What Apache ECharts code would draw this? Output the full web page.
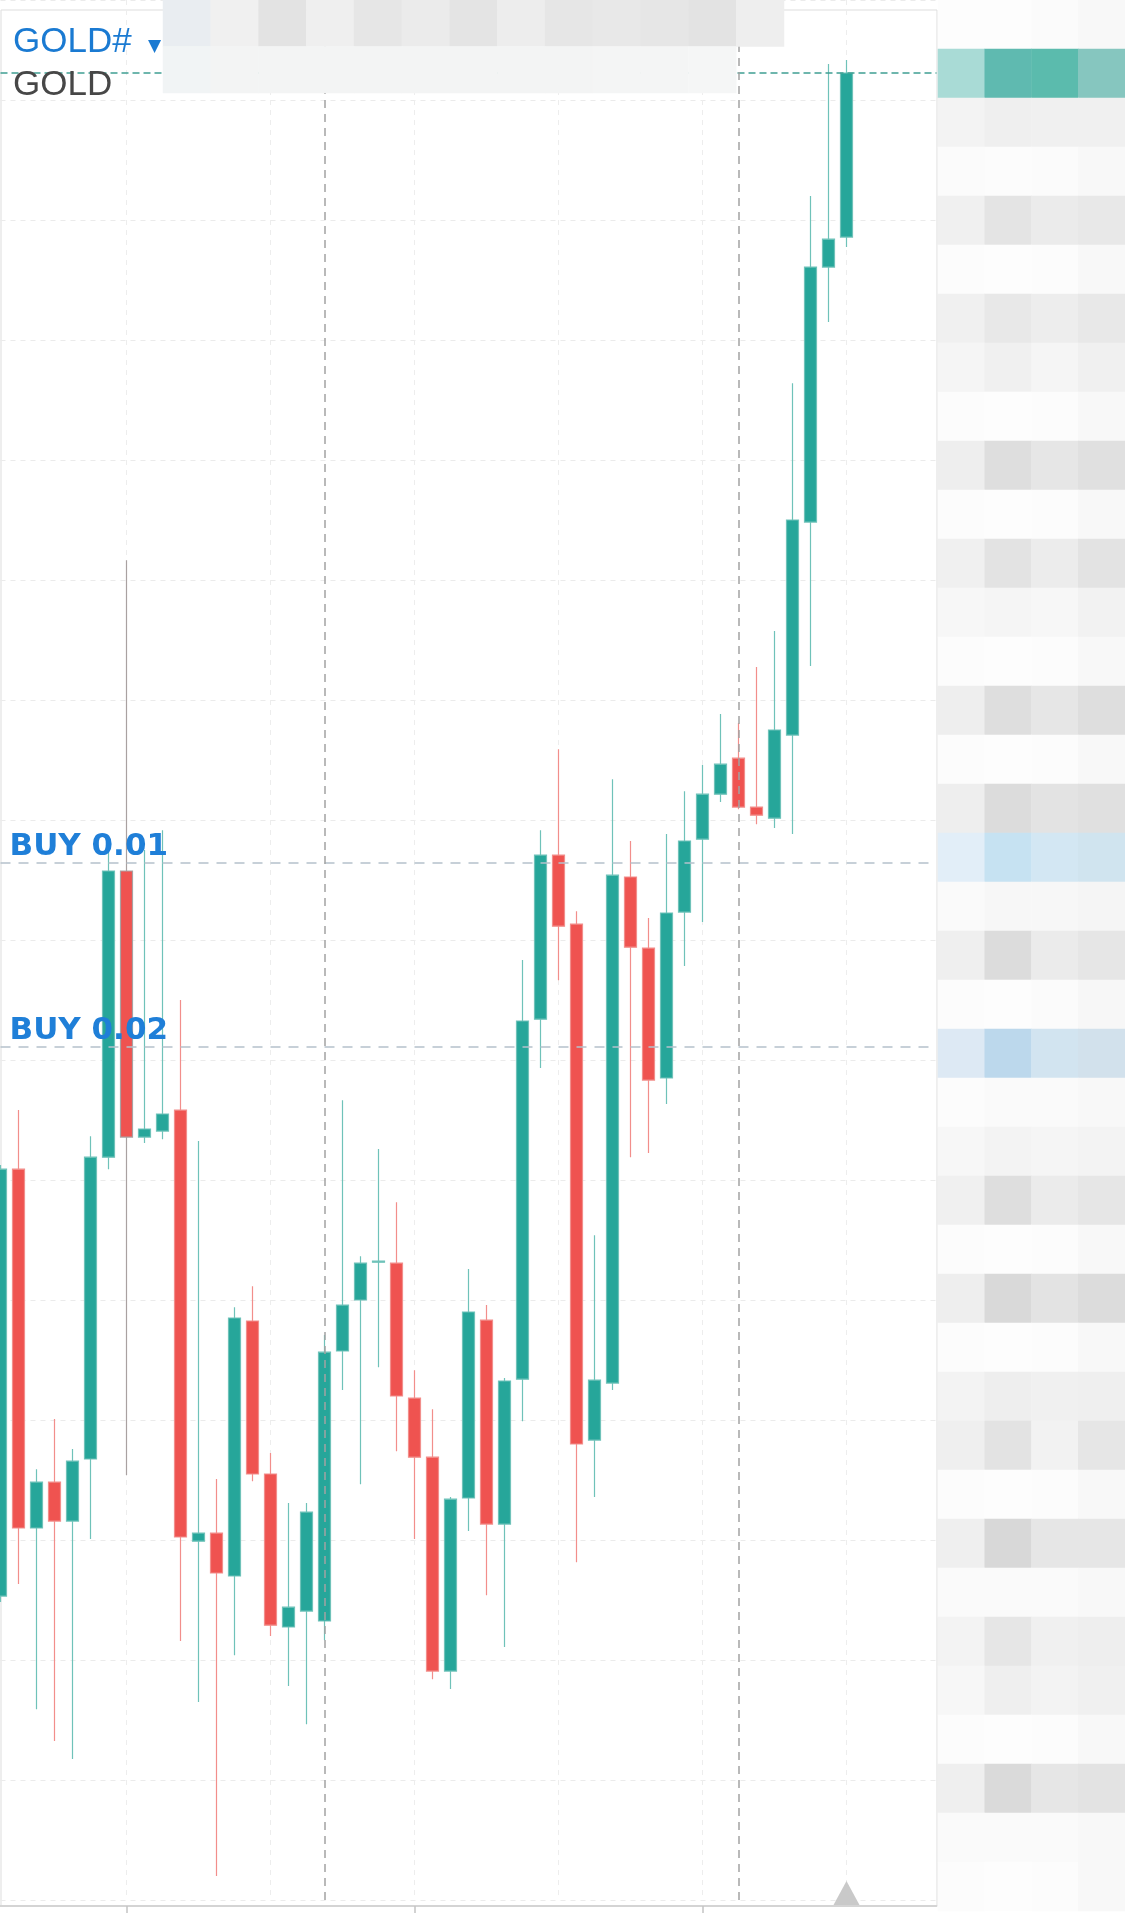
<!DOCTYPE html>
<html><head><meta charset="utf-8">
<script src="https://cdn.jsdelivr.net/npm/echarts@6/dist/echarts.min.js"></script>
<style>html,body{margin:0;padding:0;background:#fff}#c{width:1125px;height:1914px}</style>
</head><body><div id="c"></div>
<script>
// ---------- data ----------
const categories = [
 'D1 05:00','D1 06:00','D1 07:00','D1 08:00','D1 09:00','D1 10:00','D1 11:00','D1 12:00','D1 13:00','D1 14:00',
 'D1 15:00','D1 16:00','D1 17:00','D1 18:00','D1 19:00','D1 20:00','D1 21:00','D1 22:00',
 'D2 00:00','D2 01:00','D2 02:00','D2 03:00','D2 04:00','D2 05:00','D2 06:00','D2 07:00','D2 08:00','D2 09:00',
 'D2 10:00','D2 11:00','D2 12:00','D2 13:00','D2 14:00','D2 15:00','D2 16:00','D2 17:00','D2 18:00','D2 19:00',
 'D2 20:00','D2 21:00','D2 22:00',
 'D3 00:00','D3 01:00','D3 02:00','D3 03:00','D3 04:00','D3 05:00','D3 06:00','D3 07:00','D3 08:00','D3 09:00',
 'D3 10:00','D3 11:00'
];
const opens = [1910.13,1924.36,1912.40,1913.93,1912.63,1914.70,1924.76,1934.30,1925.43,1925.63,
 1926.33,1911.96,1912.23,1910.80,1919.30,1914.20,1909.10,1909.63,1909.30,1918.30,
 1920.00,1921.26,1921.23,1916.73,1914.76,1907.63,1913.40,1919.33,1912.53,1917.36,
 1929.36,1934.83,1932.53,1915.33,1917.23,1934.10,1931.73,1927.40,1932.93,1935.36,
 1936.86,1938.06,1936.43,1936.06,1938.83,1945.93,1954.43,1955.43];
const closes = [1924.36,1912.40,1913.93,1912.63,1914.63,1924.76,1934.30,1925.43,1925.70,1926.20,
 1912.10,1912.23,1910.90,1919.40,1914.20,1909.16,1909.76,1912.93,1918.26,1919.83,
 1921.23,1921.30,1916.80,1914.76,1907.63,1913.36,1919.60,1912.53,1917.30,1929.30,
 1934.83,1932.46,1915.20,1917.33,1934.16,1931.76,1927.33,1932.90,1935.30,1936.86,
 1937.86,1936.43,1936.16,1939.00,1946.00,1954.43,1955.36,1960.90];
const lows = [1909.93,1910.53,1906.36,1905.30,1904.70,1912.03,1924.36,1914.16,1925.23,1925.36,
 1908.63,1906.60,1900.80,1908.16,1913.96,1908.80,1907.13,1905.86,1908.66,1917.00,
 1913.86,1917.76,1914.96,1912.03,1907.36,1907.03,1912.30,1910.16,1908.43,1915.96,
 1927.73,1930.66,1911.26,1913.43,1917.00,1924.76,1924.90,1926.53,1931.13,1932.60,
 1936.60,1936.36,1935.86,1935.73,1935.53,1941.13,1952.60,1955.10];
const highs = [1924.50,1926.33,1914.36,1916.03,1915.03,1925.46,1934.93,1944.66,1935.00,1935.66,
 1930.00,1925.30,1914.03,1919.76,1920.46,1914.90,1913.23,1913.23,1918.83,1926.66,
 1921.46,1925.03,1923.26,1917.66,1916.36,1913.43,1921.03,1919.83,1917.40,1931.33,
 1935.66,1938.36,1932.96,1922.16,1937.36,1935.30,1932.73,1935.53,1936.96,1937.83,
 1939.53,1939.23,1941.10,1942.30,1950.56,1956.80,1961.20,1961.33];
const lastPrice = 1960.90;
const buyLevels = [1934.56, 1928.43];
const buyLabels = ['BUY 0.01', 'BUY 0.02'];
const daySeparators = [18, 41];
const markerLevel = 1900.23;
// pixelated (redacted) price scale on the right and header bar on top
const mosaicRight = [
 ['fdfdfd','fdfdfd','fbfbfb','f8f8f8'],
 ['a9dbd6','5fbab0','5bbbad','86c6bf'],
 ['f3f3f3','efefef','f0f0f0','f0f0f0'],
 ['fbfbfb','fcfcfc','fbfbfb','f8f8f8'],
 ['f0f0f0','e4e4e4','ebebeb','e8e8e8'],
 ['fcfcfc','fdfdfd','fcfcfc','f8f8f8'],
 ['f0f0f0','e8e8e8','ededed','e8e8e8'],
 ['f5f5f5','f0f0f0','f5f5f5','f0f0f0'],
 ['fcfcfc','fdfdfd','fcfcfc','f8f8f8'],
 ['eeeeee','dedede','e6e6e6','e0e0e0'],
 ['fcfcfc','fdfdfd','fcfcfc','f8f8f8'],
 ['f0f0f0','e3e3e3','ececec','e3e3e3'],
 ['f7f7f7','f5f5f5','f7f7f7','f2f2f2'],
 ['fcfcfc','fdfdfd','fcfcfc','f8f8f8'],
 ['eeeeee','dedede','e6e6e6','dedede'],
 ['fcfcfc','fdfdfd','fcfcfc','f8f8f8'],
 ['eeeeee','dcdcdc','e3e3e3','e0e0e0'],
 ['e2eef8','c6e2f2','d3e7f3','d0e4ef'],
 ['fafafa','f7f7f7','f7f7f7','f5f5f5'],
 ['efefef','dcdcdc','ebebeb','e6e6e6'],
 ['fcfcfc','fdfdfd','fbfbfb','f7f7f7'],
 ['dde9f4','bcd8ec','d2e4f0','d2e1ec'],
 ['fcfcfc','fafafa','fafafa','f8f8f8'],
 ['f7f7f7','f3f3f3','f5f5f5','f3f3f3'],
 ['f0f0f0','dedede','ebebeb','e6e6e6'],
 ['fcfcfc','fdfdfd','fcfcfc','f8f8f8'],
 ['eeeeee','d9d9d9','e3e3e3','dcdcdc'],
 ['fcfcfc','fdfdfd','fcfcfc','f8f8f8'],
 ['f3f3f3','eeeeee','f0f0f0','efefef'],
 ['efefef','e3e3e3','f2f2f2','e6e6e6'],
 ['fcfcfc','fdfdfd','fcfcfc','f8f8f8'],
 ['efefef','d8d8d8','e6e6e6','e6e6e6'],
 ['fafafa','fafafa','fafafa','f8f8f8'],
 ['f3f3f3','e6e6e6','f0f0f0','eeeeee'],
 ['f7f7f7','efefef','f3f3f3','f0f0f0'],
 ['fcfcfc','fdfdfd','fcfcfc','f8f8f8'],
 ['efefef','dadada','e6e6e6','e3e3e3'],
 ['fafafa','fafafa','fafafa','f8f8f8'],
 ['fcfcfc','fdfdfd','fcfcfc','f8f8f8']
];
const mosaicTop = [
 ['e9edf1','f0f0f0','e3e3e3','efefef','e6e6e6','ebebeb','e4e4e4','ededed','e6e6e6','e8e8e8','e6e6e6','e3e3e3','eeeeee'],
 ['f1f4f5','f3f4f4','f3f4f4','f3f4f4','f3f4f4','f3f4f4','f3f4f4','f3f4f4','f3f4f4','f4f5f5','f4f5f5','f5f6f6',null]
];

// ---------- build ----------
const palette = [];
function colorIndex(c){ let i = palette.indexOf(c); if (i < 0) { palette.push(c); i = palette.length - 1; } return i; }
const rightData = [];
mosaicRight.forEach((row, r) => row.forEach((c, col) => { if (c) rightData.push([col, r, colorIndex(c)]); }));
const topData = [];
mosaicTop.forEach((row, r) => row.forEach((c, col) => { if (c) topData.push([col, r, colorIndex(c)]); }));

const candleData = opens.map((o, i) => {
  const item = { value: [o, closes[i], lows[i], highs[i]] };
  if (i === 7) item.itemStyle = { borderColor0: '#a9a1a1' };
  return item;
});

const markLines = [
  { yAxis: lastPrice, lineStyle: { color: '#3f9f93', type: [7, 4], width: 1.5 }, label: { show: false } }
];
buyLevels.forEach((v, i) => markLines.push({
  yAxis: v,
  lineStyle: { color: '#b5c1cb', type: [10, 8], width: 1.5 },
  label: { show: true, formatter: buyLabels[i], position: 'insideStartTop', distance: [9, 1],
           color: '#1f7fd8', fontSize: 31, fontWeight: 'bold', fontFamily: 'DejaVu Sans' }
}));
daySeparators.forEach(k => markLines.push({
  xAxis: categories[k], lineStyle: { color: '#a3a3a3', type: [8, 6], width: 1.5 }, label: { show: false }
}));

const chart = echarts.init(document.getElementById('c'), null, { renderer: 'canvas' });
chart.setOption({
  animation: false,
  backgroundColor: '#ffffff',
  title: [
    { text: 'GOLD#', left: 8, top: 20, textStyle: { color: '#1a7ad2', fontSize: 35, fontWeight: 'normal', fontFamily: 'Liberation Sans' } },
    { text: '▼', left: 143, top: 33, textStyle: { color: '#1a7ad2', fontSize: 17, fontWeight: 'normal', fontFamily: 'DejaVu Sans' } },
    { text: 'GOLD', left: 8, top: 63, textStyle: { color: '#474747', fontSize: 35, fontWeight: 'normal', fontFamily: 'Liberation Sans' } }
  ],
  visualMap: {
    type: 'piecewise', show: false, dimension: 2, seriesIndex: [1, 2],
    pieces: palette.map((c, i) => ({ value: i, color: '#' + c }))
  },
  grid: [
    { left: 0.5, right: 188.5, top: 0, bottom: 14 },
    { left: 938, top: 0, width: 187, height: 1911 },
    { left: 163, top: 0, width: 621, height: 93 },
    { left: 1, top: 10, width: 936, height: 1896, show: true, borderColor: '#dddddd', borderWidth: 1, backgroundColor: 'rgba(0,0,0,0)' }
  ],
  xAxis: [
    { type: 'category', gridIndex: 0, data: categories, boundaryGap: false, offset: 6,
      axisLine: { show: true, lineStyle: { color: '#d4d4d4', width: 2 } },
      axisTick: { show: true, interval: (i) => i % 16 === 7, length: 7, lineStyle: { color: '#c4c4c4', width: 1.5 } },
      axisLabel: { show: false },
      splitLine: { show: true, interval: (i) => i % 8 === 7, lineStyle: { color: '#ededed', type: [5, 5], width: 1 } } },
    { type: 'category', gridIndex: 1, data: mosaicRight[0].map((_, i) => i), show: false },
    { type: 'category', gridIndex: 2, data: mosaicTop[0].map((_, i) => i), show: false },
    { type: 'value', gridIndex: 3, show: false }
  ],
  yAxis: [
    { type: 'value', gridIndex: 0, min: 1900, max: 1963.3333, interval: 4, position: 'right',
      axisLine: { show: false }, axisTick: { show: false }, axisLabel: { show: false },
      splitLine: { show: true, lineStyle: { color: '#ebebeb', type: [5, 5], width: 1 } } },
    { type: 'category', gridIndex: 1, data: mosaicRight.map((_, i) => i), inverse: true, show: false },
    { type: 'category', gridIndex: 2, data: mosaicTop.map((_, i) => i), inverse: true, show: false },
    { type: 'value', gridIndex: 3, show: false }
  ],
  series: [
    { type: 'candlestick', xAxisIndex: 0, yAxisIndex: 0, data: candleData, barWidth: 12.5, clip: false,
      itemStyle: { color: '#26a69a', color0: '#ef5350', borderColor: '#6fc2b9', borderColor0: '#f28e8b', borderWidth: 1.2 },
      markLine: { silent: true, symbol: ['none', 'none'], animation: false, data: markLines },
      markPoint: { silent: true, animation: false,
        data: [{ coord: [categories[47], markerLevel], symbol: 'triangle', symbolSize: [26, 24],
                 itemStyle: { color: '#c9c9c9' }, label: { show: false } }] }
    },
    { type: 'heatmap', xAxisIndex: 1, yAxisIndex: 1, data: rightData, z: 10, silent: true, itemStyle: { borderWidth: 0 } },
    { type: 'heatmap', xAxisIndex: 2, yAxisIndex: 2, data: topData, z: 10, silent: true, itemStyle: { borderWidth: 0 } }
  ]
});
</script>
</body></html>
